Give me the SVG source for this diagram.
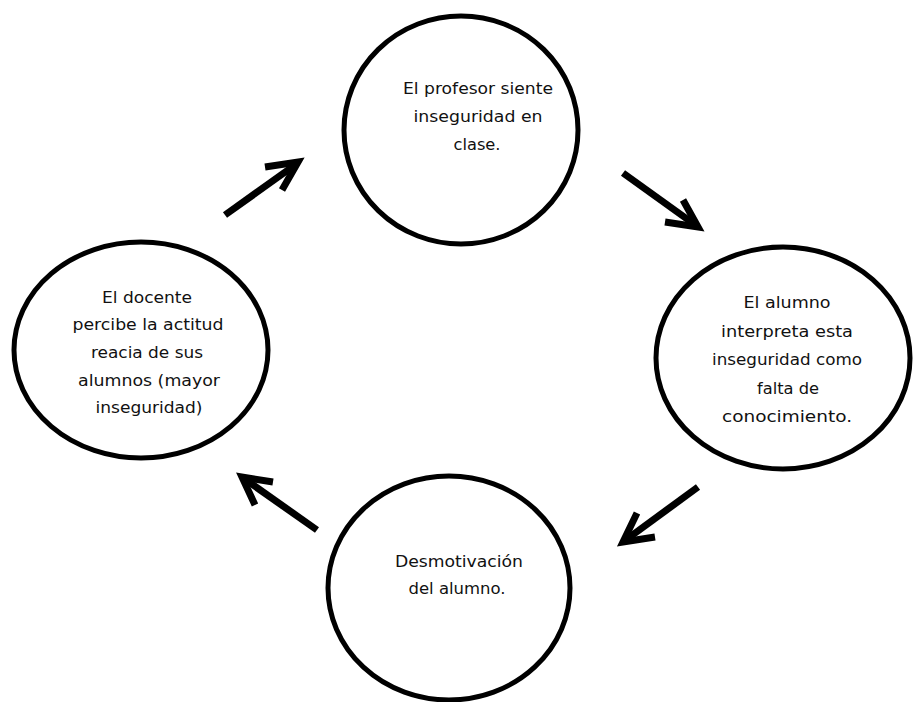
<svg xmlns="http://www.w3.org/2000/svg" width="913" height="702" viewBox="0 0 913 702">
<style>
.node ellipse{fill:#fff;stroke:#000;stroke-width:5}
.node text{font-family:"DejaVu Sans",sans-serif;font-size:16px;fill:#111;text-anchor:middle}
.arr path{fill:none;stroke:#000;stroke-width:7;stroke-linecap:butt;stroke-linejoin:miter}
</style>
<rect width="913" height="702" fill="#fff"/>
<g id="n1" class="node">
<ellipse cx="461" cy="130" rx="117" ry="114"/>
<text x="478" y="94" textLength="150" lengthAdjust="spacingAndGlyphs">El profesor siente</text>
<text x="478" y="122" textLength="129" lengthAdjust="spacingAndGlyphs">inseguridad en</text>
<text x="477" y="150" textLength="47" lengthAdjust="spacingAndGlyphs">clase.</text>
</g>
<g id="n2" class="node">
<ellipse cx="783" cy="358" rx="127" ry="111"/>
<text x="787" y="308" textLength="87" lengthAdjust="spacingAndGlyphs">El alumno</text>
<text x="787" y="337" textLength="132" lengthAdjust="spacingAndGlyphs">interpreta esta</text>
<text x="787" y="365" textLength="150" lengthAdjust="spacingAndGlyphs">inseguridad como</text>
<text x="788" y="394" textLength="62" lengthAdjust="spacingAndGlyphs">falta de</text>
<text x="787" y="422" textLength="130" lengthAdjust="spacingAndGlyphs">conocimiento.</text>
</g>
<g id="n3" class="node">
<ellipse cx="449" cy="588" rx="121" ry="112"/>
<text x="459" y="567" textLength="128" lengthAdjust="spacingAndGlyphs">Desmotivación</text>
<text x="457" y="594" textLength="97" lengthAdjust="spacingAndGlyphs">del alumno.</text>
</g>
<g id="n4" class="node">
<ellipse cx="141" cy="350" rx="127" ry="108"/>
<text x="147" y="303" textLength="90" lengthAdjust="spacingAndGlyphs">El docente</text>
<text x="148" y="330" textLength="151" lengthAdjust="spacingAndGlyphs">percibe la actitud</text>
<text x="147" y="358" textLength="112" lengthAdjust="spacingAndGlyphs">reacia de sus</text>
<text x="149" y="386" textLength="142" lengthAdjust="spacingAndGlyphs">alumnos (mayor</text>
<text x="149" y="413" textLength="107" lengthAdjust="spacingAndGlyphs">inseguridad)</text>
</g>
<g id="connectors" class="arr">
<path d="M225 215 L295 165"/>
<path d="M265 167 L298 162 L282 190"/>
<path d="M623 173 L694 224"/>
<path d="M683 200 L698 227 L665 222"/>
<path d="M698 487 L627 539"/>
<path d="M637 513 L623 542 L655 537"/>
<path d="M317 530 L246 480"/>
<path d="M273 482 L242 477 L255 505"/>
</g>
</svg>
